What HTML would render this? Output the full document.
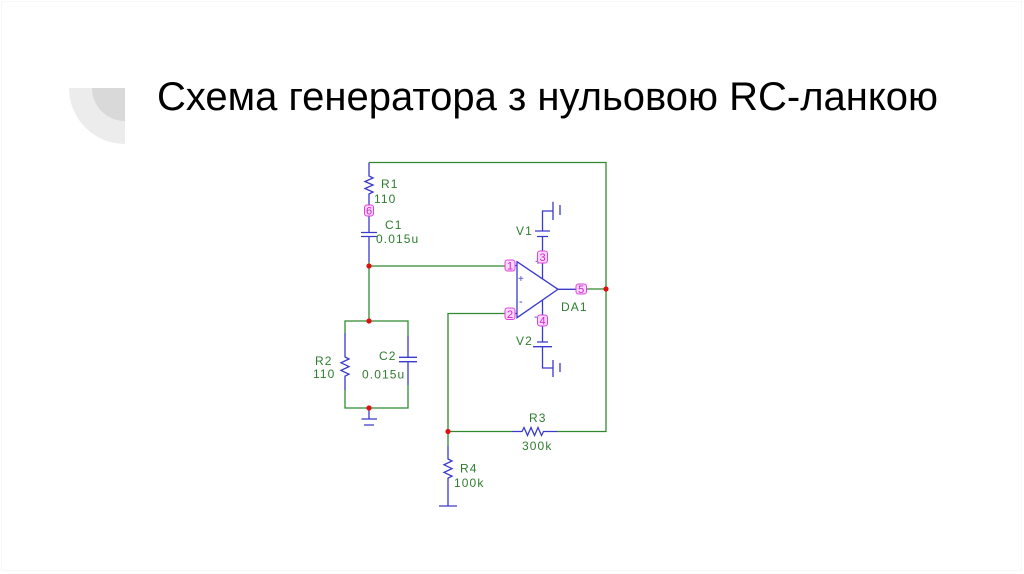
<!DOCTYPE html>
<html><head><meta charset="utf-8"><style>
html,body{margin:0;padding:0;background:#fff;}
svg{display:block;}
.g{stroke:#2f8a2f;stroke-width:1.3;fill:none;}
.b{stroke:#3a3acc;stroke-width:1.3;fill:none;}
.lbl{font-family:"Liberation Sans",sans-serif;font-size:12px;fill:#2e7d2e;letter-spacing:1.1px;}
.pn{font-family:"Liberation Sans",sans-serif;font-size:11px;fill:#d020d0;text-anchor:middle;}
.pb{fill:#fbd9fb;stroke:#e040e0;stroke-width:1;}
</style></head><body>
<svg width="1024" height="574" viewBox="0 0 1024 574" xmlns="http://www.w3.org/2000/svg">
<rect x="0" y="0" width="1024" height="574" fill="#fff"/>
<rect x="1.5" y="1.5" width="1020" height="569" fill="none" stroke="#f7f7f7" stroke-width="1"/>
<!-- decoration -->
<path d="M125,88 L69,88 A56,56 0 0 0 125,144 Z" fill="#ececec"/>
<path d="M125,88 L92,88 A33,33 0 0 0 125,121 Z" fill="#d9d9d9"/>
<!-- title -->
<text x="157" y="110" font-family="Liberation Sans, sans-serif" font-size="40" fill="#000" textLength="781" lengthAdjust="spacingAndGlyphs">Схема генератора з нульовою RC-ланкою</text>

<!-- green wires -->
<path class="g" d="M369,162.5 H606 V431.5 H557"/>
<path class="g" d="M512,431.5 H448"/>
<path class="g" d="M369,262 V321"/>
<path class="g" d="M369,266 H505"/>
<path class="g" d="M345,333 V321 H408 V336"/>
<path class="g" d="M345,390 V408 H408 V385"/>
<path class="g" d="M505,313.5 H448 V446"/>
<path class="g" d="M586,289 H606"/>

<!-- R1 / C1 -->
<path class="b" d="M369,162.5 V176 l4,2 l-8,3.5 l8,3.5 l-8,3.5 l8,3.5 l-4,2 V205"/>
<path class="b" d="M369,216 V232.5 M361,232.5 H377 M361,236.5 H377 M369,236.5 V262"/>
<!-- R2 -->
<path class="b" d="M345,333 V357 l4,2 l-8,3.8 l8,3.8 l-8,3.8 l8,3.8 l-4,2 V390"/>
<!-- C2 -->
<path class="b" d="M408,336 V357.3 M399,357.3 H417 M399,361.7 H417 M408,361.7 V385"/>
<!-- ground -->
<path class="b" d="M369,408 V419 M361.5,419 H377 M364,425 H374"/>
<!-- R3 -->
<path class="b" d="M512,431.5 H522 l2,-4 l3.5,8 l3.5,-8 l3.5,8 l3.5,-8 l3.5,8 l2,-4 H557"/>
<!-- R4 -->
<path class="b" d="M448,446 V459 l4,2 l-8,3.8 l8,3.8 l-8,3.8 l8,3.8 l-4,2 V506 M439,506 H457"/>

<!-- op amp -->
<path class="b" d="M517,261.7 L558,289.3 L517,317.7 Z"/>
<path class="b" d="M515,265.5 H517 M515,313.5 H517 M558,289.3 H576"/>
<!-- V1 -->
<path class="b" d="M542.5,279 V263 M542.5,251 V236.5 M537,236.5 H548 M535,231 H550 M542.5,231 V211 H553 M553,201.7 V220 M560,205 V215"/>
<!-- V2 -->
<path class="b" d="M542.5,300 V315 M542.5,326 V342 M537,342 H548 M533,346.7 H552 M542.5,346.7 V368 H553 M553,360 V377 M560,363 V372"/>
<text x="535" y="265" style="font-family:'Liberation Sans',sans-serif;font-size:10px;fill:#3a3acc">+</text>
<text x="534" y="320" style="font-family:'Liberation Sans',sans-serif;font-size:10px;fill:#3a3acc">-</text>
<text x="518" y="282" style="font-family:'Liberation Sans',sans-serif;font-size:10px;fill:#3a3acc">+</text>
<text x="519" y="305" style="font-family:'Liberation Sans',sans-serif;font-size:11px;fill:#3a3acc">-</text>

<!-- pin boxes -->
<rect class="pb" x="505" y="260" width="10" height="11" rx="2.5"/><text class="pn" x="510" y="269.5">1</text>
<rect class="pb" x="505" y="308" width="10" height="11.5" rx="2.5"/><text class="pn" x="510" y="317.8">2</text>
<rect class="pb" x="537.5" y="251" width="10" height="12" rx="2.5"/><text class="pn" x="542.5" y="261">3</text>
<rect class="pb" x="537.5" y="315" width="10" height="11" rx="2.5"/><text class="pn" x="542.5" y="324.5">4</text>
<rect class="pb" x="576" y="284" width="10.5" height="10" rx="2.5"/><text class="pn" x="581.2" y="293">5</text>
<rect class="pb" x="364.5" y="205" width="9" height="11" rx="2.5"/><text class="pn" x="369" y="214.5">6</text>

<!-- junction dots -->
<g fill="#e01010">
<circle cx="369" cy="266" r="2.6"/>
<circle cx="369" cy="321" r="2.6"/>
<circle cx="369" cy="408" r="2.6"/>
<circle cx="606" cy="289" r="2.6"/>
<circle cx="448" cy="431.5" r="2.6"/>
</g>

<!-- labels -->
<text class="lbl" x="381" y="188">R1</text>
<text class="lbl" x="374" y="203">110</text>
<text class="lbl" x="385" y="229">C1</text>
<text class="lbl" x="376" y="243">0.015u</text>
<text class="lbl" x="516" y="235">V1</text>
<text class="lbl" x="561" y="311">DA1</text>
<text class="lbl" x="516" y="345">V2</text>
<text class="lbl" x="315" y="365">R2</text>
<text class="lbl" x="313" y="378">110</text>
<text class="lbl" x="379" y="360">C2</text>
<text class="lbl" x="362" y="378.5">0.015u</text>
<text class="lbl" x="529" y="422">R3</text>
<text class="lbl" x="522" y="450">300k</text>
<text class="lbl" x="460" y="472.5">R4</text>
<text class="lbl" x="454" y="487">100k</text>
</svg>
</body></html>
